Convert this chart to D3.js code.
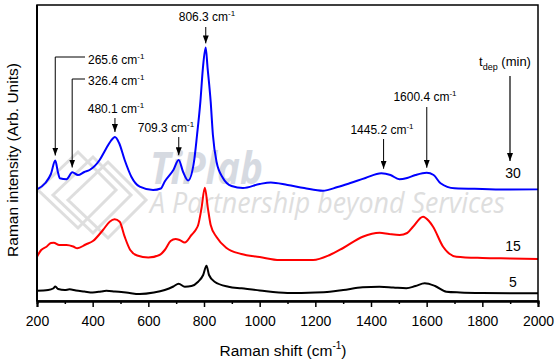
<!DOCTYPE html>
<html>
<head>
<meta charset="utf-8">
<script src="https://cdn.jsdelivr.net/npm/d3@7"></script>
<style>
  body { margin: 0; background: #fff; }
  svg { display: block; font-family: "Liberation Sans", Arial, sans-serif; }
</style>
</head>
<body>
<div id="chart"></div>
<script>
// Raman spectra: [shift (cm-1), intensity (arb. units, offset included)]
const spec5 = [[200,10.3],[240,11],[258,12.5],[266,14.5],[276,12],[300,11],[317,11.7],[340,10.5],[370,9.5],[400,8.5],[430,9.5],[449,10.3],[480,9.5],[520,8.5],[569,7],[620,8.5],[659,11],[690,14.5],[709,17.3],[731,14.3],[755,15],[779,19.3],[797,26],[809,35.3],[818,26],[838,19.3],[888,14.3],[935,12.7],[1000,10.5],[1100,8],[1200,8.5],[1252,9.3],[1300,11],[1370,13.7],[1430,14.3],[1480,13.5],[1527,12.7],[1560,15],[1593,17.7],[1630,15],[1671,9.3],[1720,8.5],[1800,8],[2000,7.7]];
const spec15 = [[200,44.3],[215,51],[234,54.3],[250,58],[260,58.3],[280,56],[306,56],[330,54.5],[345,52.7],[375,56.5],[401,60],[437,71],[461,79.3],[479,81.7],[497,79.3],[515,64.3],[535,51],[560,45.5],[600,43.5],[640,46],[659,51],[680,60],[698,62],[712,61],[731,58.5],[755,66],[770,71],[779,76],[791,92.7],[803,113.3],[814,92.7],[824,76],[845,64],[881,53],[934,47],[1000,44],[1072,41],[1192,41],[1252,46],[1300,53],[1370,64.3],[1431,68.3],[1465,67],[1503,66],[1530,68],[1551,74.3],[1587,84.3],[1608,80],[1623,74.3],[1659,54.3],[1707,44.3],[1800,43],[1900,42.5],[2000,42]];
const spec30 = [[200,111.7],[230,118],[250,127],[265.6,140.5],[275,129],[282,122.7],[306,121.7],[327,128.7],[347,126],[370,129],[389,131],[425,141],[449,152.7],[465,160],[480,164],[495,158],[515,141],[539,124.3],[569,114.3],[617,111],[645,112.5],[659,119.5],[690,131],[709,141],[725,129],[743,120.5],[764,139.3],[775,166],[787,199.3],[796,232.7],[806,253.5],[813,232.7],[824,199.3],[832,166],[845,139.3],[868,123],[899,115],[940,113],[1000,117],[1040,118.5],[1100,116],[1160,113],[1227,110.3],[1280,114],[1323,117.7],[1380,123],[1437,127.7],[1470,126],[1502,121.7],[1530,123],[1560,126],[1600,128.3],[1625,126],[1650,117.7],[1700,112.7],[1800,112],[1900,111.5],[2000,111.7]];

const depTimes = ["5", "15", "30"];
const seriesColors = ["#000000", "#ff0000", "#0000ff"];
const peakShifts = [265.6, 326.4, 480.1, 709.3, 806.3, 1445.2, 1600.4];
const majorTicks = d3.range(200, 2001, 200);
const minorTicks = d3.range(300, 2000, 200);

const width = 560, height = 362;
const margin = {top: 5, right: 22, bottom: 61, left: 37};
const plotW = width - margin.left - margin.right;
const plotH = height - margin.top - margin.bottom;

const svg = d3.select("#chart").append("svg")
    .attr("width", width)
    .attr("height", height);

const x = d3.scaleLinear().domain([200, 2000]).range([margin.left, margin.left + plotW]);
const y = d3.scaleLinear().domain([0, 296]).range([margin.top + plotH, margin.top]);

svg.append("defs").append("marker")
    .attr("id", "head")
    .attr("markerUnits", "userSpaceOnUse")
    .attr("markerWidth", 8).attr("markerHeight", 6)
    .attr("refX", 8).attr("refY", 3)
    .attr("orient", "auto")
    .append("path").attr("d", "M0,0L8,3L0,6Z").attr("fill", "#000");

// faint watermark behind the plot
const wm = svg.append("g").attr("opacity", 0.75);
[[78, 190], [93, 195], [108, 200]].forEach(c => {
    wm.append("path")
        .attr("d", `M${c[0] - 40},${c[1]}L${c[0]},${c[1] - 38}L${c[0] + 38},${c[1]}L${c[0]},${c[1] + 38}Z`)
        .attr("fill", "none").attr("stroke", "#d4d4d4").attr("stroke-width", 3);
});
wm.append("text")
    .attr("x", 150).attr("y", 184)
    .attr("font-family", "'Open Sans', sans-serif")
    .attr("font-style", "italic").attr("font-weight", 700)
    .attr("font-size", 44)
    .attr("textLength", 113).attr("lengthAdjust", "spacingAndGlyphs")
    .attr("fill", "#c9ced8")
    .text("TiPlab");
wm.append("text")
    .attr("x", 150).attr("y", 213)
    .attr("font-family", "'Open Sans', sans-serif")
    .attr("font-style", "italic")
    .attr("font-size", 30)
    .attr("textLength", 355).attr("lengthAdjust", "spacingAndGlyphs")
    .attr("fill", "#d3d3d3")
    .text("A Partnership beyond Services");

// spectra
const line = d3.line()
    .x(d => x(d[0]))
    .y(d => y(d[1]))
    .curve(d3.curveMonotoneX);

[spec5, spec15, spec30].forEach((s, i) => {
    svg.append("path")
        .datum(s)
        .attr("d", line)
        .attr("fill", "none")
        .attr("stroke", seriesColors[i])
        .attr("stroke-width", 2)
        .attr("stroke-linejoin", "round");
});

// frame and x axis
svg.append("rect")
    .attr("x", margin.left).attr("y", margin.top)
    .attr("width", plotW).attr("height", plotH)
    .attr("fill", "none").attr("stroke", "#000").attr("stroke-width", 1.5);
svg.append("line")
    .attr("x1", margin.left).attr("x2", margin.left)
    .attr("y1", margin.top).attr("y2", margin.top + plotH)
    .attr("stroke", "#000").attr("stroke-width", 2);

const gMinor = svg.append("g")
    .attr("transform", `translate(0,${margin.top + plotH})`)
    .call(d3.axisBottom(x).tickValues(minorTicks).tickSize(3).tickFormat(""));
const gMajor = svg.append("g")
    .attr("transform", `translate(0,${margin.top + plotH})`)
    .call(d3.axisBottom(x).tickValues(majorTicks).tickSize(6).tickPadding(9).tickFormat(d3.format("d")));
[gMinor, gMajor].forEach(g => {
    g.select(".domain").attr("stroke-width", 2);
    g.selectAll(".tick line").attr("stroke-width", 1.5);
});
gMajor.selectAll("text")
    .attr("font-family", "'Liberation Sans', Arial, sans-serif")
    .attr("font-size", 14)
    .attr("fill", "#000");

// axis titles
const xt = svg.append("text")
    .attr("x", 283).attr("y", 356)
    .attr("text-anchor", "middle")
    .attr("font-size", 15.5);
xt.append("tspan").text("Raman shift (cm");
xt.append("tspan").attr("font-size", 10).attr("dy", -7).text("-1");
xt.append("tspan").attr("dy", 7).text(")");

svg.append("text")
    .attr("transform", "translate(18,160) rotate(-90)")
    .attr("text-anchor", "middle")
    .attr("font-size", 15.5)
    .text("Raman intensity (Arb. Units)");

// peak annotations
function blueAt(s) {
    const i = d3.bisector(d => d[0]).left(spec30, s);
    const a = spec30[Math.max(0, i - 1)], b = spec30[Math.min(spec30.length - 1, i)];
    if (a[0] === b[0]) return a[1];
    return a[1] + (b[1] - a[1]) * (s - a[0]) / (b[0] - a[0]);
}

function label(tx, ty, anchor, txt) {
    const t = svg.append("text")
        .attr("x", tx).attr("y", ty)
        .attr("text-anchor", anchor)
        .attr("font-size", 12);
    t.append("tspan").text(txt);
    t.append("tspan").attr("font-size", 8).attr("dy", -5).text("-1");
    return t;
}

// label x, label baseline, arrow start y, elbow leader or not
const noteLayout = [
    {tx: 88, ty: 64, from: 57, elbow: true},
    {tx: 88, ty: 85, from: 79, elbow: true},
    {tx: 116, ty: 113, from: 118},
    {tx: 166, ty: 132, from: 137},
    {tx: 207, ty: 21, from: 27},
    {tx: 382, ty: 134, from: 139},
    {tx: 425, ty: 101, from: 107}
];

peakShifts.forEach((p, i) => {
    const n = noteLayout[i];
    const px = x(p);
    const tipY = y(blueAt(p)) - 5;
    let d = `M${px},${n.from}L${px},${tipY}`;
    if (n.elbow) d = `M${n.tx - 3},${n.from}L${px},${n.from}L${px},${tipY}`;
    svg.append("path")
        .attr("d", d)
        .attr("fill", "none")
        .attr("stroke", "#000")
        .attr("stroke-width", 1)
        .attr("marker-end", "url(#head)");
    label(n.tx, n.ty, n.elbow ? "start" : "middle", p.toFixed(1) + " cm");
});

// deposition time legend
const td = svg.append("text")
    .attr("x", 505).attr("y", 66)
    .attr("text-anchor", "middle")
    .attr("font-size", 13);
td.append("tspan").text("t");
td.append("tspan").attr("font-size", 9).attr("dy", 4).text("dep");
td.append("tspan").attr("dy", -4).text(" (min)");

svg.append("path")
    .attr("d", "M510,76L510,161")
    .attr("stroke", "#000").attr("stroke-width", 1.2)
    .attr("marker-end", "url(#head)");

const timeLabelY = [287, 251, 178];
depTimes.forEach((t, i) => {
    svg.append("text")
        .attr("x", 513).attr("y", timeLabelY[i])
        .attr("text-anchor", "middle")
        .attr("font-size", 14)
        .text(t);
});
</script>
</body>
</html>
